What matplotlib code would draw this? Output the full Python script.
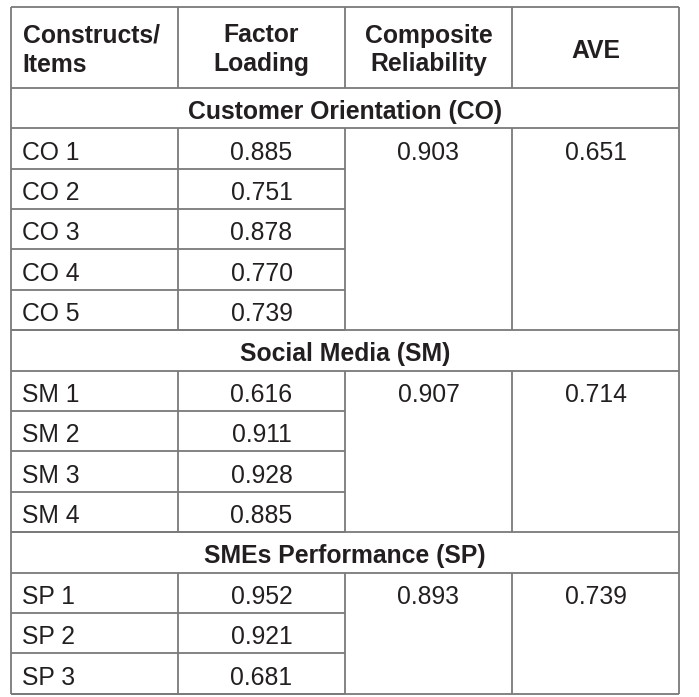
import matplotlib

matplotlib.use("Agg")
import matplotlib.pyplot as plt

plt.rcParams["font.family"] = ["Liberation Sans", "DejaVu Sans"]

headers = [["Constructs/", "Items"], ["Factor", "Loading"], ["Composite", "Reliability"], ["AVE"]]
constructs = ["Customer Orientation (CO)", "Social Media (SM)", "SMEs Performance (SP)"]
items = [
    ["CO 1", "CO 2", "CO 3", "CO 4", "CO 5"],
    ["SM 1", "SM 2", "SM 3", "SM 4"],
    ["SP 1", "SP 2", "SP 3"],
]
loadings = [
    [0.885, 0.751, 0.878, 0.770, 0.739],
    [0.616, 0.911, 0.928, 0.885],
    [0.952, 0.921, 0.681],
]
comp_rel = [0.903, 0.907, 0.893]
ave = [0.651, 0.714, 0.739]

W, H = 699, 697
fig = plt.figure(figsize=(W / 100, H / 100), dpi=100)
ax = fig.add_axes([0, 0, 1, 1])
ax.set_xlim(0, W)
ax.set_ylim(H, 0)
ax.axis("off")

x0, x1 = 11, 679
cols = [11, 178, 345, 512, 679]
top = 7
rh = 40.4
lc = "#7a7a7a"
lw = 1.3
tc = "#231f20"
fs = 17.8
base = 31.3  # baseline offset inside a row


def hline(y, a=x0, b=x1):
    ax.plot([a, b], [y, y], color=lc, lw=lw, solid_capstyle="butt")


def vline(x, a, b):
    ax.plot([x, x], [a, b], color=lc, lw=lw, solid_capstyle="butt")


def cell(x, y, s, ha="center", bold=False):
    ax.text(x, y, s, ha=ha, va="baseline", fontsize=fs, color=tc,
            fontweight="bold" if bold else "normal")


# header
hb = top + 2 * rh
hline(top)
for i, h in enumerate(headers):
    cx = cols[i] + 11.5 if i == 0 else (cols[i] + cols[i + 1]) / 2
    ha = "left" if i == 0 else "center"
    if len(h) == 2:
        cell(cx, top + 35.5, h[0], ha, True)
        cell(cx, top + 64.5, h[1], ha, True)
    else:
        cell(cx, top + 50.5, h[0], ha, True)
for c in cols:
    vline(c, top, hb)
y = hb
hline(y)

for k, name in enumerate(constructs):
    cell((x0 + x1) / 2, y + base, name, bold=True)
    vline(x0, y, y + rh)
    vline(x1, y, y + rh)
    y += rh
    hline(y)
    start = y
    for j, it in enumerate(items[k]):
        cell(cols[0] + 11.5, y + base, it, ha="left")
        cell((cols[1] + cols[2]) / 2, y + base, f"{loadings[k][j]:.3f}")
        y += rh
        hline(y, cols[0], cols[2])
    cell((cols[2] + cols[3]) / 2, start + base, f"{comp_rel[k]:.3f}")
    cell((cols[3] + cols[4]) / 2, start + base, f"{ave[k]:.3f}")
    for c in cols:
        vline(c, start, y)
    hline(y)

fig.savefig("out.png", dpi=100, facecolor="white")
